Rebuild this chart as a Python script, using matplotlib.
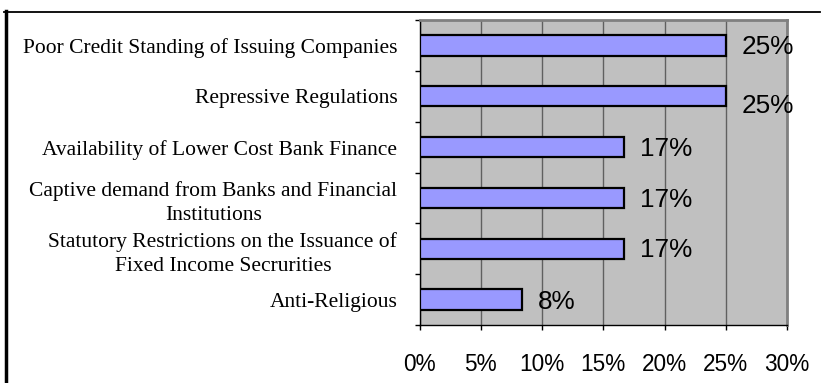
import matplotlib.pyplot as plt
from matplotlib.lines import Line2D
from matplotlib.ticker import FixedLocator, PercentFormatter

# Survey shares per reason (percent of respondents)
reasons = [
    "Poor Credit Standing of Issuing Companies",
    "Repressive Regulations",
    "Availability of Lower Cost Bank Finance",
    "Captive demand from Banks and Financial\nInstitutions",
    "Statutory Restrictions on the Issuance of\nFixed Income Secrurities",
    "Anti-Religious",
]
shares = [25.0, 25.0, 16.67, 16.67, 16.67, 8.33]
share_labels = ["25%", "25%", "17%", "17%", "17%", "8%"]
x_ticks = [0, 5, 10, 15, 20, 25, 30]

# vertical nudge of each value label (pixels, negative = down)
label_dy = [-2, -10, -2, -2, -1, -2]

W, H = 822, 383
fig = plt.figure(figsize=(W / 100, H / 100), dpi=100)

ax = fig.add_axes([419.5 / W, 1 - 325 / H, (787 - 419.5) / W, (325 - 20) / H])
ax.set_facecolor("#C0C0C0")

ypos = list(range(len(reasons)))
ax.barh(ypos, shares, height=0.4, color="#9999FF", edgecolor="black",
        linewidth=1.6, zorder=3)

for y, v, lab, dy in zip(ypos, shares, share_labels, label_dy):
    ax.annotate(lab, xy=(v, y), xytext=(16, dy), textcoords="offset pixels",
                ha="left", va="center", fontsize=18.8,
                family="Liberation Sans", zorder=4)

ax.set_xlim(0, 30)
ax.set_ylim(len(reasons) - 0.5, -0.5)

ax.xaxis.set_major_locator(FixedLocator(x_ticks))
ax.xaxis.set_major_formatter(PercentFormatter(decimals=0))
ax.grid(axis="x", color="#606060", linewidth=1.0, zorder=0)
ax.tick_params(axis="x", direction="out", length=3.6, width=1, pad=16.5,
               labelsize=16.3)
for t in ax.get_xticklabels():
    t.set_family("Liberation Sans")

ax.set_yticks(ypos)
ax.set_yticklabels(reasons, family="Liberation Serif", fontsize=15.5,
                   ha="right", multialignment="center", linespacing=1.37)
ax.tick_params(axis="y", which="major", length=0, pad=16)
ax.set_yticks([i - 0.5 for i in range(len(reasons) + 1)], minor=True)
ax.tick_params(axis="y", which="minor", direction="out", length=3.6, width=1)

for side in ("left", "bottom"):
    ax.spines[side].set_color("black")
    ax.spines[side].set_linewidth(1.0)
for side in ("top", "right"):
    ax.spines[side].set_color("#808080")
    ax.spines[side].set_linewidth(2.0)

# outer frame edges
fig.add_artist(Line2D([5.5 / W, 5.5 / W], [0, 1 - 11 / H], color="black",
                      linewidth=2.5, transform=fig.transFigure))
fig.add_artist(Line2D([4 / W, 820 / W], [1 - 11.5 / H, 1 - 11.5 / H],
                      color="black", linewidth=1.3, transform=fig.transFigure))

fig.savefig("out.png", dpi=100)
